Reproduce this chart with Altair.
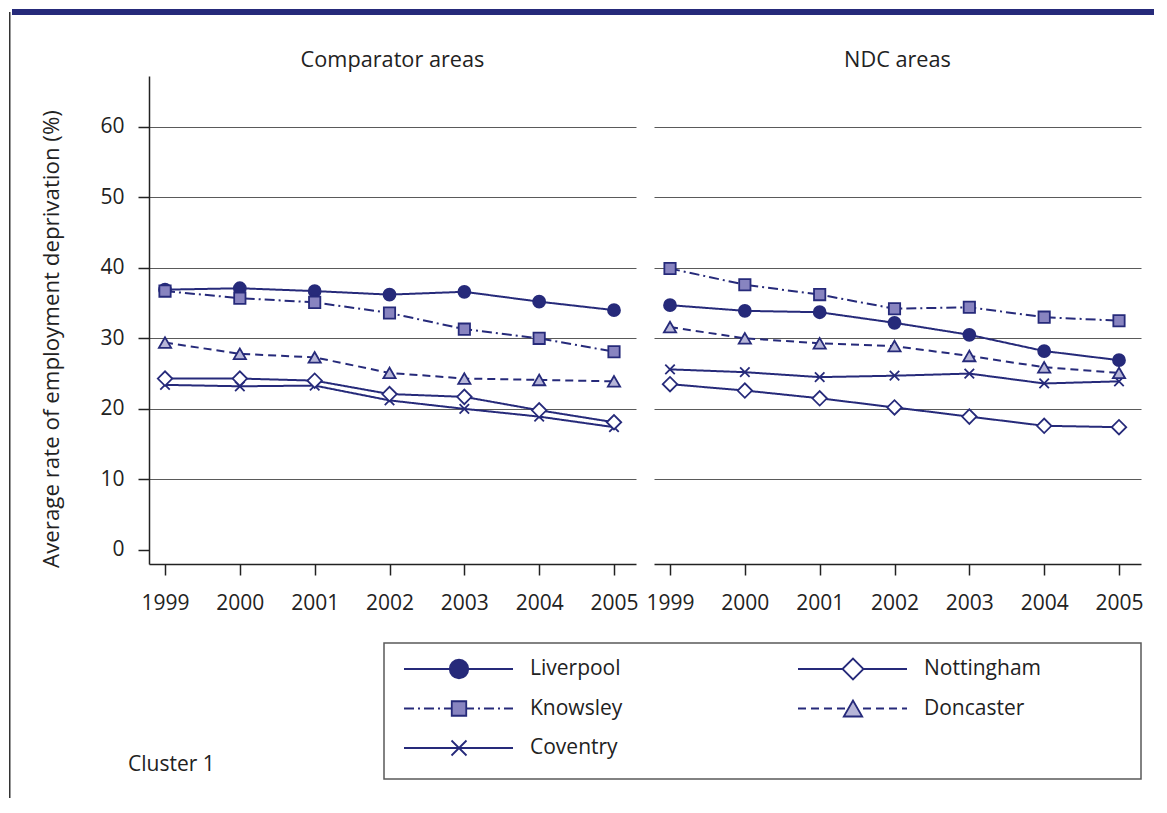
import altair as alt
import pandas as pd

# ---------------- data ----------------
years = [1999, 2000, 2001, 2002, 2003, 2004, 2005]
series = ["Liverpool", "Knowsley", "Coventry", "Nottingham", "Doncaster"]
panels = ["Comparator areas", "NDC areas"]

comp_liverpool = [36.9, 37.1, 36.7, 36.2, 36.6, 35.2, 34.0]
comp_knowsley = [36.7, 35.7, 35.1, 33.6, 31.3, 30.0, 28.1]
comp_coventry = [23.4, 23.2, 23.3, 21.2, 20.0, 18.9, 17.4]
comp_nottingham = [24.3, 24.3, 24.0, 22.1, 21.7, 19.8, 18.1]
comp_doncaster = [29.4, 27.8, 27.3, 25.1, 24.3, 24.1, 23.9]

ndc_liverpool = [34.7, 33.9, 33.7, 32.2, 30.5, 28.2, 26.9]
ndc_knowsley = [39.9, 37.6, 36.2, 34.2, 34.4, 33.0, 32.5]
ndc_coventry = [25.6, 25.2, 24.5, 24.7, 25.0, 23.6, 23.9]
ndc_nottingham = [23.5, 22.6, 21.5, 20.2, 18.9, 17.6, 17.4]
ndc_doncaster = [31.6, 30.0, 29.3, 28.9, 27.5, 25.9, 25.1]

y_ticks = [0, 10, 20, 30, 40, 50, 60]
y_title = "Average rate of employment deprivation (%)"
footnote = ["Cluster 1"]

legend_names = ["Liverpool", "Nottingham", "Knowsley", "Doncaster", "Coventry"]
legend_cols = [0, 1, 0, 1, 0]
legend_rows = [0, 0, 1, 1, 2]

# ---------------- styles ----------------
NAVY = "#262a7a"
TEXT = "#222222"
GRID = "#5a5a5a"
FONT = "Open Sans"

dash_range = [[1, 0], [10, 4, 2, 4], [1, 0], [1, 0], [8, 5]]
shape_range = ["circle", "square", "M-1,-1L1,1M-1,1L1,-1", "diamond", "triangle-up"]
fill_range = [NAVY, "#8884c0", NAVY, "white", "#b7b6d8"]
size_plot = [144, 128, 90, 210, 150]
size_leg = [342, 210, 225, 440, 340]

tables = {
    "Comparator areas": [comp_liverpool, comp_knowsley, comp_coventry, comp_nottingham, comp_doncaster],
    "NDC areas": [ndc_liverpool, ndc_knowsley, ndc_coventry, ndc_nottingham, ndc_doncaster],
}
rows = []
for area in panels:
    for s, vals in zip(series, tables[area]):
        for yr, v in zip(years, vals):
            rows.append({"area": area, "series": s, "year": yr, "value": v})
df = pd.DataFrame(rows)
leg = pd.DataFrame({"series": legend_names, "lcol": legend_cols, "lrow": legend_rows})

W, H = 487, 488
xscale = alt.Scale(domain=[1998.786, 2005.294], nice=False, zero=False)
yscale = alt.Scale(domain=[-2.0, 67.2], nice=False, zero=False)
series_index = "indexof(" + repr(series) + ", datum.series)"
idx_domain = list(range(len(series)))

grid_op = {"condition": {"test": "datum.value === 0", "value": 0}, "value": 1}

xaxis = alt.Axis(values=years, format="d", tickSize=11, tickWidth=1.5, tickColor=TEXT,
                 domainColor=TEXT, domainWidth=1.5, labelFontSize=21, labelFont=FONT,
                 labelColor=TEXT, labelPadding=17, labelFlush=False, labelOverlap=False,
                 grid=False, title=None)
yaxis_left = alt.Axis(values=y_ticks, tickSize=11, tickWidth=1.5, tickColor=TEXT,
                      domainColor=TEXT, domainWidth=1.5, labelFontSize=21, labelFont=FONT,
                      labelColor=TEXT, labelPadding=14, grid=True, gridColor=GRID,
                      gridWidth=1.2, gridOpacity=grid_op, title=y_title, titleFont=FONT,
                      titleFontSize=22.3, titleFontWeight="normal", titleColor=TEXT,
                      titleX=-98, titleY=262.5, titleAngle=270, titleAlign="center",
                      titleBaseline="middle")
yaxis_right = alt.Axis(values=y_ticks, grid=True, gridColor=GRID, gridWidth=1.2,
                       gridOpacity=grid_op, labels=False, ticks=False, domain=False, title=None)

dash_enc = alt.StrokeDash("series:N", scale=alt.Scale(domain=series, range=dash_range), legend=None)
shape_enc = alt.Shape("series:N", scale=alt.Scale(domain=series, range=shape_range), legend=None)
fill_enc = alt.Fill("series:N", scale=alt.Scale(domain=series, range=fill_range), legend=None)


def size_enc(rng):
    return alt.Size("si:Q", scale=alt.Scale(type="linear", domain=idx_domain, range=rng,
                                            zero=False, nice=False), legend=None)


def data_layers(area, yaxis):
    d = df[df["area"] == area]
    base = alt.Chart(d)
    lines = base.mark_line(color=NAVY, strokeWidth=2).encode(
        x=alt.X("year:Q", scale=xscale, axis=xaxis),
        y=alt.Y("value:Q", scale=yscale, axis=yaxis),
        strokeDash=dash_enc,
        detail="series:N",
    )
    pts = base.transform_calculate(si=series_index).mark_point(
        filled=True, stroke=NAVY, strokeWidth=1.8, opacity=1).encode(
        x=alt.X("year:Q", scale=xscale, axis=xaxis),
        y=alt.Y("value:Q", scale=yscale, axis=yaxis),
        shape=shape_enc,
        fill=fill_enc,
        size=size_enc(size_plot),
    )
    title = alt.Chart(pd.DataFrame({"t": [area]})).mark_text(
        fontSize=21.7, font=FONT, color=TEXT, align="center", baseline="alphabetic"
    ).encode(x=alt.value(W / 2), y=alt.value(-9), text="t:N")
    return lines, pts, title


# ----- left panel -----
l_lines, l_pts, l_title = data_layers(panels[0], yaxis_left)
one = pd.DataFrame({"k": [0]})
left_border = alt.Chart(one).mark_rule(color="#333333", strokeWidth=1.5).encode(
    x=alt.value(-139.25), y=alt.value(-64), y2=alt.value(722))
top_bar = alt.Chart(one).mark_rule(color=NAVY, strokeWidth=6).encode(
    x=alt.value(-137), x2=alt.value(1005), y=alt.value(-64))
cluster = alt.Chart(pd.DataFrame({"t": footnote})).mark_text(
    fontSize=21, font=FONT, color=TEXT, align="left", baseline="middle"
).encode(x=alt.value(-21), y=alt.value(689), text="t:N")

left = alt.layer(l_lines, l_pts, l_title, left_border, top_bar, cluster).properties(width=W, height=H)

# ----- right panel -----
r_lines, r_pts, r_title = data_layers(panels[1], yaxis_right)
main_r = alt.layer(r_lines, r_pts)

lx = alt.X("lcol:Q", scale=alt.Scale(domain=[0, 1], range=[-195, 199]), axis=None)
ly = alt.Y("lrow:Q", scale=alt.Scale(domain=[0, 2], range=[593, 672]), axis=None)
lbase = alt.Chart(leg)
leg_lines = lbase.mark_rule(color=NAVY, strokeWidth=2, xOffset=-55, x2Offset=54).encode(
    x=lx, x2="lcol:Q", y=ly, strokeDash=dash_enc)
leg_pts = lbase.transform_calculate(si=series_index).mark_point(
    filled=True, stroke=NAVY, strokeWidth=1.8, opacity=1).encode(
    x=lx, y=ly, shape=shape_enc, fill=fill_enc, size=size_enc(size_leg))
leg_text = lbase.mark_text(fontSize=21, font=FONT, color=TEXT, align="left",
                           baseline="middle", dx=71).encode(x=lx, y=ly, text="series:N")
legend_block = alt.layer(leg_lines, leg_pts, leg_text)
leg_box = alt.Chart(one).mark_rect(fill="transparent", stroke=GRID, strokeWidth=1.5).encode(
    x=alt.value(-270), x2=alt.value(487), y=alt.value(567), y2=alt.value(703))

right = alt.layer(main_r, legend_block, r_title, leg_box).resolve_scale(
    x="independent", y="independent", size="independent").properties(width=W, height=H)

chart = alt.hconcat(left, right, spacing=18, bounds="flush").resolve_scale(
    size="independent").properties(padding=0, background="white").configure_view(
    stroke="transparent")

chart.save("out.html", embed_options={"renderer": "svg", "actions": False})
